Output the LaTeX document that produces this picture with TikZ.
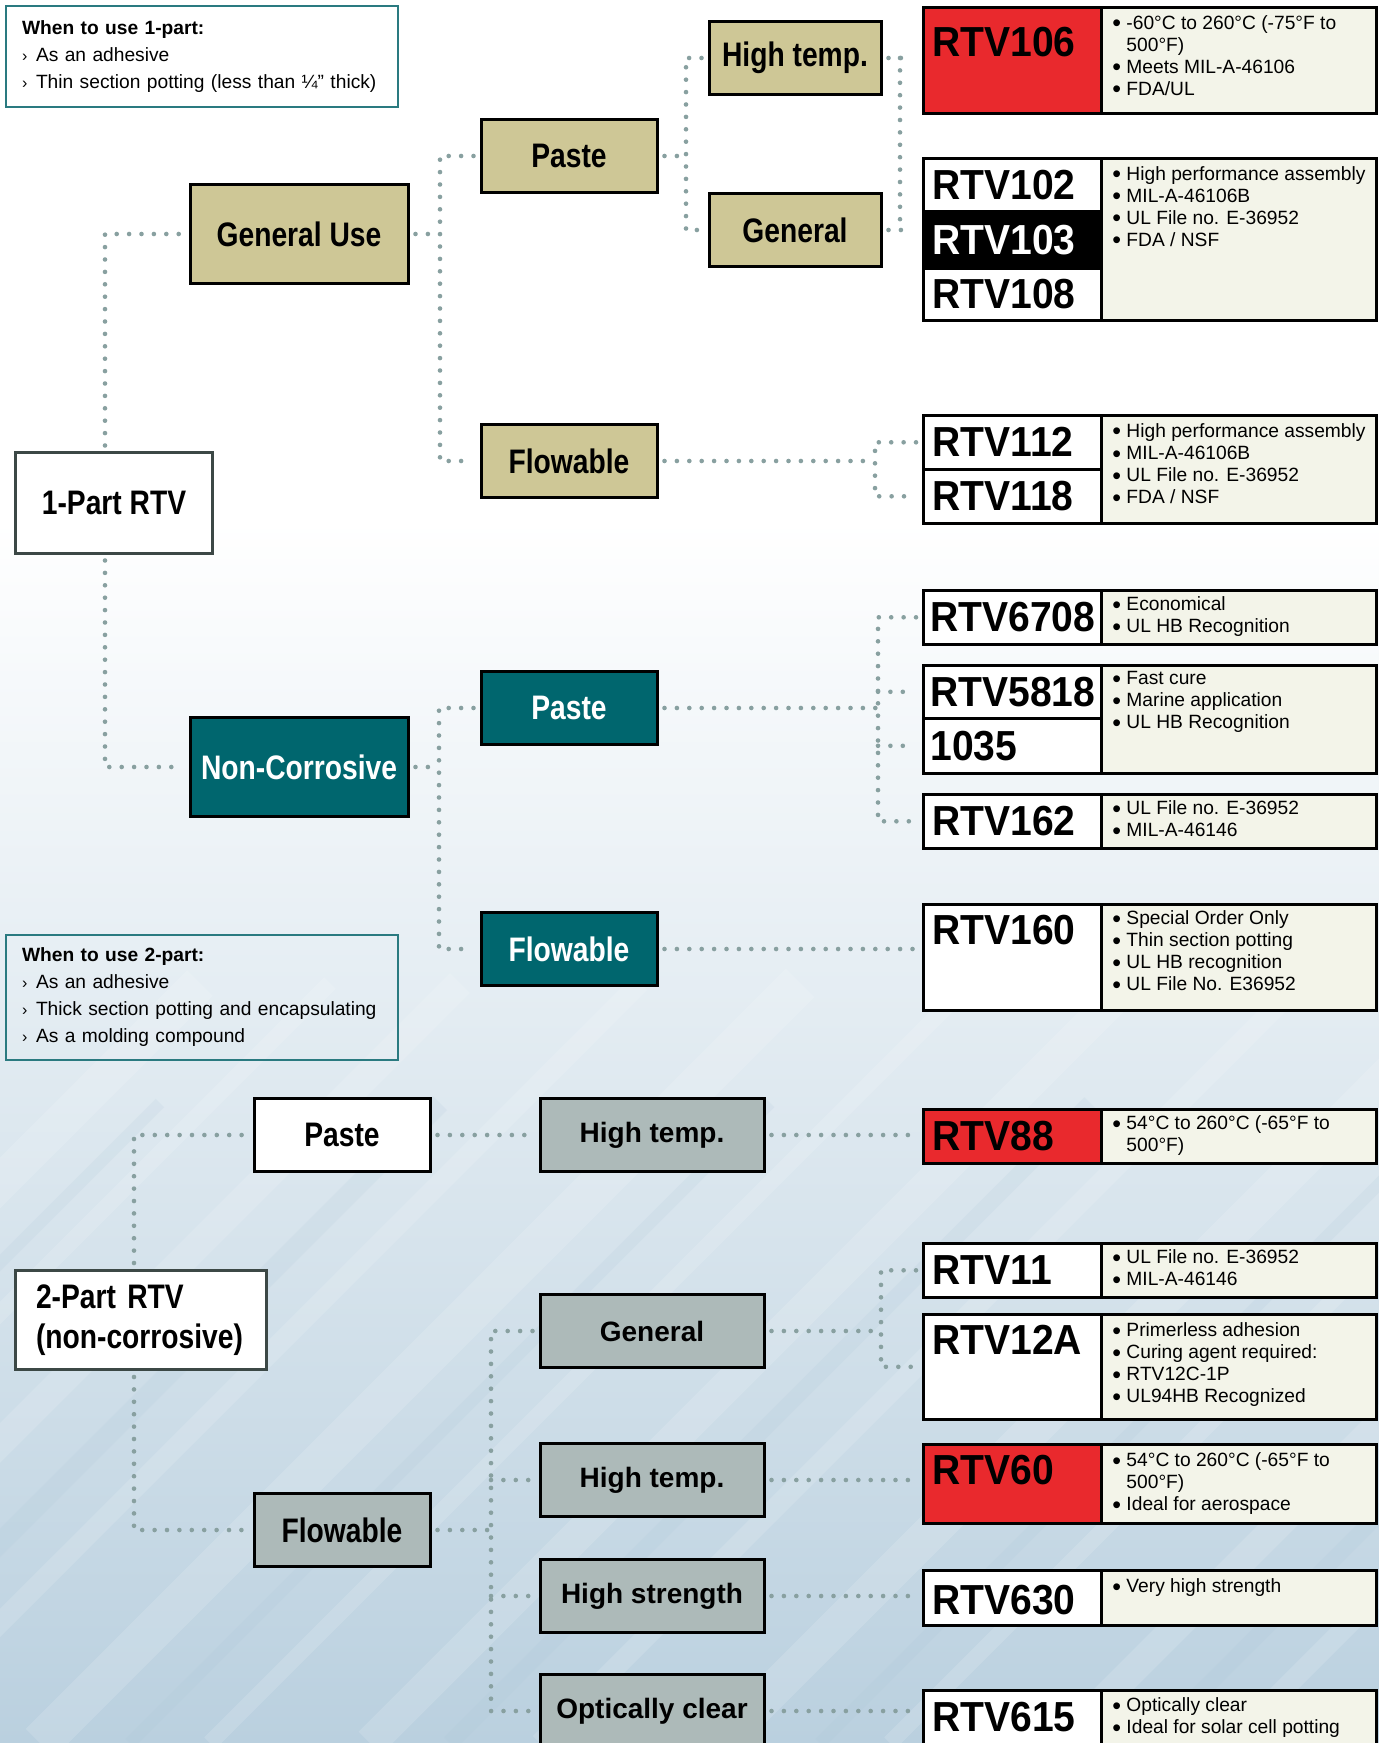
\documentclass[tikz,border=0pt]{standalone}
\usepackage{graphicx}
\usepackage{fontspec}
\setmainfont{Liberation Sans}
\newfontfamily\condfont[FakeStretch=0.83]{Liberation Sans}
\newfontfamily\rtvfont[FakeStretch=0.93]{Liberation Sans}
\usetikzlibrary{positioning}
\usetikzlibrary{calc}

\definecolor{tanfill}{RGB}{206,199,150}
\definecolor{tealfill}{RGB}{0,102,110}
\definecolor{grayfill}{RGB}{173,186,185}
\definecolor{rtvred}{RGB}{233,41,45}
\definecolor{specfill}{RGB}{243,244,233}
\definecolor{linkcol}{RGB}{136,160,160}
\definecolor{notecol}{RGB}{42,122,128}
\definecolor{darkedge}{RGB}{60,72,70}
\definecolor{bgmid}{RGB}{228,238,243}
\definecolor{bglow}{RGB}{186,208,223}
\definecolor{bgstreak}{RGB}{168,196,214}

\newcommand{\itm}{\makebox[7pt][l]{\footnotesize›}}
\newcommand{\bl}{\raisebox{-0.14em}{\scalebox{1.3}{\textbullet}}\ }
\newcommand{\blc}{\hphantom{\scalebox{1.3}{\textbullet}\ }}

\tikzset{
  catbox/.style={draw, line width=1.5pt, minimum height=36.5pt, inner sep=0pt,
    font=\condfont\bfseries\fontsize{17}{20}\selectfont},
  tanbox/.style={catbox, fill=tanfill, minimum width=88pt},
  tealbox/.style={catbox, fill=tealfill, text=white, minimum width=88pt},
  plainbox/.style={catbox, fill=white, minimum width=88pt},
  graybox/.style={catbox, fill=grayfill, minimum width=88pt},
  widegray/.style={catbox, fill=grayfill, minimum width=112pt,
    font=\bfseries\fontsize{14}{16}\selectfont},
  note/.style={draw=notecol, line width=1pt, anchor=north west, text width=180pt,
    inner xsep=8pt, align=left, font=\fontsize{9.6}{13.5}\selectfont},
  namecell/.style={draw, line width=1.3pt, fill=white, anchor=north west,
    minimum width=89pt, inner sep=0pt},
  speccell/.style={draw, line width=1.3pt, fill=specfill, anchor=north west,
    minimum width=137.5pt, inner sep=0pt},
  rtvlabel/.style={anchor=west, inner sep=0pt, font=\rtvfont\bfseries\fontsize{21}{21}\selectfont},
  spectext/.style={anchor=north west, inner sep=0pt, align=left,
    font=\fontsize{9.6}{11}\selectfont},
  link/.style={draw=linkcol, line width=2.3pt, line cap=round,
    dash pattern=on 0pt off 6.2pt, shorten <=3pt, shorten >=4.5pt},
  branch/.style={link, shorten <=0pt},
  stub/.style={link, shorten >=0pt},
  bar/.style={link, shorten <=0pt, shorten >=0pt}
}

\begin{document}
\begin{tikzpicture}[x=0.5pt, y=-0.5pt]

\useasboundingbox (0,0) rectangle (1379,1743);

% background
\fill[white] (0,0) rectangle (1379,1743);
\shade[top color=white, middle color=bgmid, bottom color=bglow] (0,520) rectangle (1379,1743);
\foreach \s/\w in {-560/18,-430/8,-300/14,-120/10,40/20,210/8,370/16,540/10,720/18,890/8,1060/14,1230/10}
  \draw[white, opacity=.14, line width=\w pt] (\s,1743) -- ++(760,-760);
\foreach \s/\w in {-480/6,-200/10,130/6,450/8,820/6,1150/8}
  \draw[bgstreak, opacity=.14, line width=\w pt] (\s,1743) -- ++(640,-640);

\def\hpspec{\bl High performance assembly\\ \bl MIL-A-46106B\\ \bl UL File no. E-36952\\ \bl FDA / NSF}

% notes
\node[note, minimum height=50.5pt] (note1) at (5,5)
  {\textbf{When to use 1-part:}\\ \itm As an adhesive\\ \itm Thin section potting (less than ¼” thick)};
\node[note, minimum height=62.5pt] (note2) at (5,934)
  {\textbf{When to use 2-part:}\\ \itm As an adhesive\\ \itm Thick section potting and encapsulating\\ \itm As a molding compound};

% 1-part tree
\node[plainbox, draw=darkedge, minimum width=98.5pt, minimum height=50pt] (onepart) at (114,503) {1-Part RTV};
\node[tanbox, minimum width=109pt, minimum height=49.5pt] (genuse) at (299,234) {General Use};
\node[tealbox, minimum width=109pt, minimum height=49.5pt] (noncor) at (299,767) {Non-Corrosive};
\node[tanbox] (paste1) at (569,156) {Paste};
\node[tanbox] (flow1) at (569,461) {Flowable};
\node[tealbox] (pasteN) at (569,708) {Paste};
\node[tealbox] (flowN) at (569,949) {Flowable};
\node[tanbox, minimum width=86pt] (hightemp1) at (795,58) {High temp.};
\node[tanbox, minimum width=86pt] (general1) at (795,230) {General};

% 2-part tree
\node[plainbox, draw=darkedge, minimum width=125.5pt, minimum height=49.5pt, text width=105pt, align=left] (twopart) at (141,1320) {2-Part RTV\\(non-corrosive)};
\node[plainbox] (pasteB) at (342,1135) {Paste};
\node[graybox] (flowB) at (342,1530) {Flowable};
\node[widegray] (hightempB) at (652,1135) {High temp.};
\node[widegray] (generalB) at (652,1331) {General};
\node[widegray] (hightempC) at (652,1480) {High temp.};
\node[widegray] (hstrength) at (652,1596) {High strength};
\node[widegray] (optclear) at (652,1711) {Optically clear};

% products
\node[speccell, minimum height=53pt] (spec106) at (1100,6) {};
\node[namecell, fill=rtvred, minimum height=53pt] (rtv106) at (922,6) {};
\node[rtvlabel] at ([xshift=5pt,yshift=-18pt]rtv106.north west) {RTV106};
\node[spectext] at ([xshift=6pt,yshift=-4.5pt]spec106.north west)
  {\bl -60°C to 260°C (-75°F to\\ \blc 500°F)\\ \bl Meets MIL-A-46106\\ \bl FDA/UL};

\node[speccell, minimum height=81pt] (spec102) at (1100,157) {};
\node[namecell, minimum height=26.5pt] (rtv102) at (922,157) {};
\node[namecell, fill=black, minimum height=28.5pt] (rtv103) at (922,210) {};
\node[namecell, minimum height=26pt] (rtv108) at (922,267) {};
\node[rtvlabel] at ([xshift=5pt]rtv102.west) {RTV102};
\node[rtvlabel, text=white] at ([xshift=5pt]rtv103.west) {RTV103};
\node[rtvlabel] at ([xshift=5pt]rtv108.west) {RTV108};
\node[spectext] at ([xshift=6pt,yshift=-4.5pt]spec102.north west) {\hpspec};

\node[speccell, minimum height=54pt] (spec112) at (1100,414) {};
\node[namecell, minimum height=27pt] (rtv112) at (922,414) {};
\node[namecell, minimum height=27pt] (rtv118) at (922,468) {};
\node[rtvlabel] at ([xshift=5pt]rtv112.west) {RTV112};
\node[rtvlabel] at ([xshift=5pt]rtv118.west) {RTV118};
\node[spectext] at ([xshift=6pt,yshift=-4.5pt]spec112.north west) {\hpspec};

\node[speccell, minimum height=27pt] (spec6708) at (1100,589) {};
\node[namecell, minimum height=27pt] (rtv6708) at (922,589) {};
\node[rtvlabel] at ([xshift=4pt]rtv6708.west) {RTV6708};
\node[spectext] at ([xshift=6pt,yshift=-3.5pt]spec6708.north west)
  {\bl Economical\\ \bl UL HB Recognition};

\node[speccell, minimum height=54pt] (spec5818) at (1100,664) {};
\node[namecell, minimum height=26.5pt] (rtv5818) at (922,664) {};
\node[namecell, minimum height=27.5pt] (rtv1035) at (922,717) {};
\node[rtvlabel] at ([xshift=4pt]rtv5818.west) {RTV5818};
\node[rtvlabel] at ([xshift=4pt]rtv1035.west) {1035};
\node[spectext] at ([xshift=6pt,yshift=-3.5pt]spec5818.north west)
  {\bl Fast cure\\ \bl Marine application\\ \bl UL HB Recognition};

\node[speccell, minimum height=27pt] (spec162) at (1100,793) {};
\node[namecell, minimum height=27pt] (rtv162) at (922,793) {};
\node[rtvlabel] at ([xshift=5pt]rtv162.west) {RTV162};
\node[spectext] at ([xshift=6pt,yshift=-3.5pt]spec162.north west)
  {\bl UL File no. E-36952\\ \bl MIL-A-46146};

\node[speccell, minimum height=53pt] (spec160) at (1100,903) {};
\node[namecell, minimum height=53pt] (rtv160) at (922,903) {};
\node[rtvlabel] at ([xshift=5pt,yshift=-13.5pt]rtv160.north west) {RTV160};
\node[spectext] at ([xshift=6pt,yshift=-3.5pt]spec160.north west)
  {\bl Special Order Only\\ \bl Thin section potting\\ \bl UL HB recognition\\ \bl UL File No. E36952};

\node[speccell, minimum height=27pt] (spec88) at (1100,1108) {};
\node[namecell, fill=rtvred, minimum height=27pt] (rtv88) at (922,1108) {};
\node[rtvlabel] at ([xshift=5pt]rtv88.west) {RTV88};
\node[spectext] at ([xshift=6pt,yshift=-3.5pt]spec88.north west)
  {\bl 54°C to 260°C (-65°F to\\ \blc 500°F)};

\node[speccell, minimum height=27pt] (spec11) at (1100,1242) {};
\node[namecell, minimum height=27pt] (rtv11) at (922,1242) {};
\node[rtvlabel] at ([xshift=5pt]rtv11.west) {RTV11};
\node[spectext] at ([xshift=6pt,yshift=-3.5pt]spec11.north west)
  {\bl UL File no. E-36952\\ \bl MIL-A-46146};

\node[speccell, minimum height=52.5pt] (spec12a) at (1100,1313) {};
\node[namecell, minimum height=52.5pt] (rtv12a) at (922,1313) {};
\node[rtvlabel] at ([xshift=5pt,yshift=-13.5pt]rtv12a.north west) {RTV12A};
\node[spectext] at ([xshift=6pt,yshift=-4.5pt]spec12a.north west)
  {\bl Primerless adhesion\\ \bl Curing agent required:\\ \bl RTV12C-1P\\ \bl UL94HB Recognized};

\node[speccell, minimum height=39.5pt] (spec60) at (1100,1443) {};
\node[namecell, fill=rtvred, minimum height=39.5pt] (rtv60) at (922,1443) {};
\node[rtvlabel] at ([xshift=5pt,yshift=-13.5pt]rtv60.north west) {RTV60};
\node[spectext] at ([xshift=6pt,yshift=-4.5pt]spec60.north west)
  {\bl 54°C to 260°C (-65°F to\\ \blc 500°F)\\ \bl Ideal for aerospace};

\node[speccell, minimum height=27.5pt] (spec630) at (1100,1569) {};
\node[namecell, minimum height=27.5pt] (rtv630) at (922,1569) {};
\node[rtvlabel] at ([xshift=5pt,yshift=-1pt]rtv630.west) {RTV630};
\node[spectext] at ([xshift=6pt,yshift=-4.5pt]spec630.north west)
  {\bl Very high strength};

\node[speccell, minimum height=35pt] (spec615) at (1100,1689) {};
\node[namecell, minimum height=35pt] (rtv615) at (922,1689) {};
\node[rtvlabel] at ([xshift=5pt,yshift=-14pt]rtv615.north west) {RTV615};
\node[spectext] at ([xshift=6pt,yshift=-4pt]spec615.north west)
  {\bl Optically clear\\ \bl Ideal for solar cell potting};

% dotted connectors
\coordinate (busB) at (440,0);
\coordinate (busC) at (686,0);
\coordinate (busD) at (900,0);
\coordinate (busE) at (875,0);
\coordinate (busF) at (439,0);
\coordinate (busG) at (878,0);
\coordinate (busH) at (491,0);
\coordinate (busI) at (881,0);

\draw[link] ([xshift=-4.5pt]onepart.north) |- (genuse.west);
\draw[link] ([xshift=-4.5pt]onepart.south) |- (noncor.west);
\draw[link] (paste1.west) -| (busB |- flow1.west) -- (flow1.west);
\draw[stub] (genuse.east) -- (genuse.east -| busB);
\draw[link] (hightemp1.west) -| (busC |- general1.west) -- (general1.west);
\draw[stub] (paste1.east) -- (paste1.east -| busC);
\draw[link] (hightemp1.east) -- (hightemp1.east -| rtv106.west);
\draw[link] (general1.east) -- (general1.east -| rtv103.west);
\draw[bar] (busD |- hightemp1.east) -- (busD |- general1.east);
\draw[link] (rtv112.west) -| (busE |- rtv118.west) -- (rtv118.west);
\draw[stub] (flow1.east) -- (flow1.east -| busE);
\draw[link] (pasteN.west) -| (busF |- flowN.west) -- (flowN.west);
\draw[stub] (noncor.east) -- (noncor.east -| busF);
\draw[link] (rtv6708.west) -| (busG |- rtv162.west) -- (rtv162.west);
\draw[branch] (busG |- rtv5818.west) -- (rtv5818.west);
\draw[branch] (busG |- rtv1035.west) -- (rtv1035.west);
\draw[stub] (pasteN.east) -- (pasteN.east -| busG);
\draw[link] (flowN.east) -- (flowN.east -| rtv160.west);

\draw[link] ([xshift=-3.5pt]twopart.north) |- (pasteB.west);
\draw[link] ([xshift=-3.5pt]twopart.south) |- (flowB.west);
\draw[link] (pasteB.east) -- (hightempB.west);
\draw[link] (hightempB.east) -- (hightempB.east -| rtv88.west);
\draw[link] (generalB.west) -| (busH |- optclear.west) -- (optclear.west);
\draw[branch] (busH |- hightempC.west) -- (hightempC.west);
\draw[branch] (busH |- hstrength.west) -- (hstrength.west);
\draw[stub] (flowB.east) -- (flowB.east -| busH);
\draw[link] (rtv11.west) -| (busI |- rtv12a.west) -- (rtv12a.west);
\draw[stub] (generalB.east) -- (generalB.east -| busI);
\draw[link] (hightempC.east) -- (hightempC.east -| rtv60.west);
\draw[link] (hstrength.east) -- (hstrength.east -| rtv630.west);
\draw[link] (optclear.east) -- (optclear.east -| rtv615.west);

\end{tikzpicture}
\end{document}
